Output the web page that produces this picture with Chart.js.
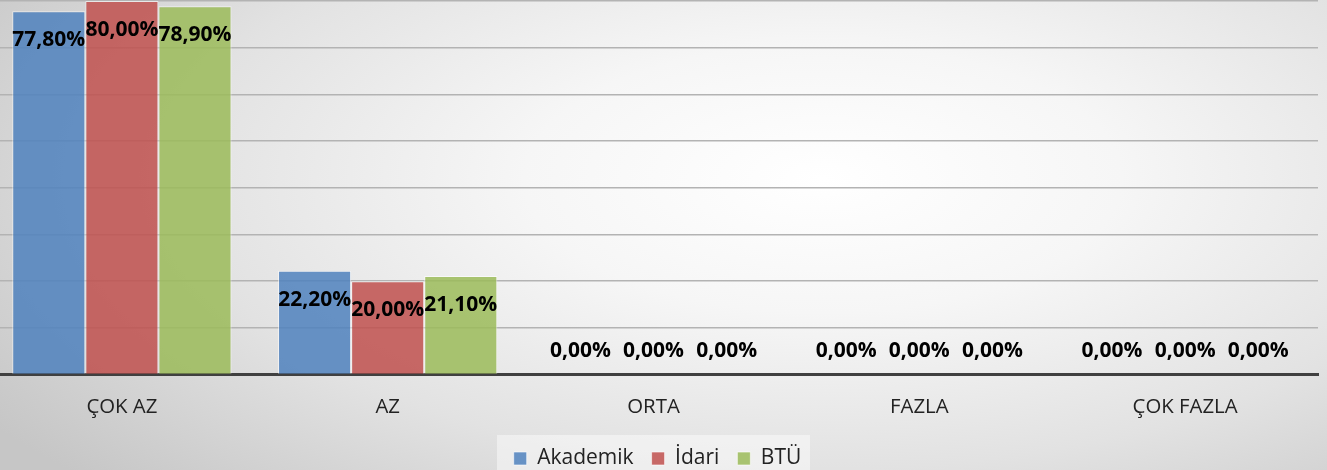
<!DOCTYPE html>
<html><head><meta charset="utf-8">
<script src="https://cdn.jsdelivr.net/npm/chart.js@4.4.0/dist/chart.umd.min.js"></script>
<style>
html,body{margin:0;padding:0;width:1327px;height:470px;overflow:hidden;}
body{background:radial-gradient(ellipse 75% 95% at 62% 38%, #ffffff 0%, #f6f6f6 30%, #e2e2e2 65%, #c6c6c6 100%);}
#wrap{position:absolute;left:-11px;top:0;width:1338px;height:470px;}
</style></head>
<body><div id="wrap"><canvas id="c"></canvas></div>
<script>
const categories = ["ÇOK AZ", "AZ", "ORTA", "FAZLA", "ÇOK FAZLA"];
const seriesNames = ["Akademik", "İdari", "BTÜ"];
const akademik = [77.8, 22.2, 0, 0, 0];
const idari = [80.0, 20.0, 0, 0, 0];
const btu = [78.9, 21.1, 0, 0, 0];
const yTicks = [0, 10, 20, 30, 40, 50, 60, 70, 80];

const colors = ["rgba(79,129,189,0.85)", "rgba(192,80,77,0.85)", "rgba(155,187,89,0.85)"];
const fmt = v => v.toFixed(2).replace('.', ',') + '%';

const labelPlugin = {
  id: 'valLabels',
  afterDatasetsDraw(chart) {
    const ctx = chart.ctx;
    ctx.save();
    ctx.font = 'bold 21px "Open Sans"';
    ctx.fillStyle = '#000';
    ctx.textAlign = 'center';
    ctx.textBaseline = 'middle';
    chart.data.datasets.forEach((ds, i) => {
      chart.getDatasetMeta(i).data.forEach((bar, j) => {
        const v = ds.data[j];
        const y = v > 0 ? bar.y + 29 : bar.base - 24;
        ctx.fillText(fmt(v), bar.x, y);
      });
    });
    ctx.restore();
  }
};
const legendShift = {
  id: 'legendShift',
  afterLayout(chart) {
    const lg = chart.legend;
    lg.top -= 1; lg.bottom -= 1;
    lg.left += 4; lg.right += 4;
  }
};
const legendBg = {
  id: 'legendBg',
  beforeDraw(chart) {
    const ctx = chart.ctx;
    ctx.save();
    ctx.fillStyle = 'rgba(255,255,255,0.45)';
    ctx.fillRect(508, 435, 313, 40);
    ctx.restore();
  }
};

new Chart(document.getElementById('c'), {
  type: 'bar',
  data: {
    labels: categories,
    datasets: [
      { label: seriesNames[0], data: akademik, backgroundColor: colors[0] },
      { label: seriesNames[1], data: idari, backgroundColor: colors[1] },
      { label: seriesNames[2], data: btu, backgroundColor: colors[2] }
    ].map(d => Object.assign(d, { borderColor: 'rgba(255,255,255,0.6)', borderWidth: 1, categoryPercentage: 0.825, barPercentage: 1 }))
  },
  options: {
    responsive: true, maintainAspectRatio: false, animation: false,
    layout: { padding: { top: 1, right: 9, left: 0, bottom: -10 } },
    plugins: {
      tooltip: { enabled: false },
      legend: {
        position: 'bottom',
        labels: { boxWidth: 13, boxHeight: 13, font: { size: 21, family: '"Open Sans"' }, color: '#222', padding: 18 }
      }
    },
    scales: {
      x: {
        grid: { display: false },
        border: { display: true, color: '#404040', width: 3 },
        ticks: { font: { size: 20.4, family: '"Open Sans"' }, color: '#222', padding: 12 }
      },
      y: {
        min: 0, max: 80,
        afterBuildTicks: ax => { ax.ticks = yTicks.map(v => ({ value: v })); },
        ticks: { display: false },
        border: { display: false },
        grid: { color: '#b3b3b3', lineWidth: 1.6, drawTicks: false }
      }
    }
  },
  plugins: [labelPlugin, legendShift, legendBg]
});
</script></body></html>
